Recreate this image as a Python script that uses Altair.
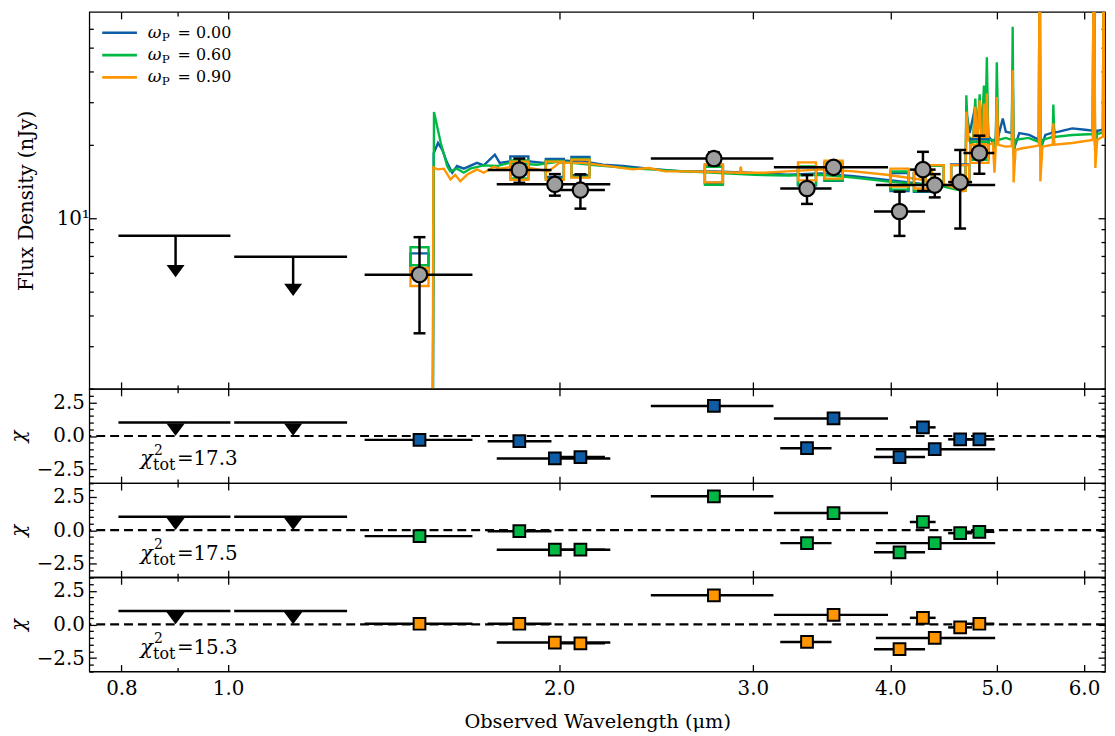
import altair as alt
import pandas as pd

FONT = "DejaVu Serif"
BLUE, GREEN, ORANGE, GRAY = "#0C5DA5", "#00B945", "#FF9500", "#9e9e9e"
MODEL_COLORS = [BLUE, GREEN, ORANGE]
omega_labels = ["0.00", "0.60", "0.90"]
chi2_tot = ["17.3", "17.5", "15.3"]

# ---------------- photometry (detections) ----------------
det_wl = [1.493, 1.840, 1.982, 2.091, 2.765, 3.360, 3.552, 4.078, 4.283, 4.390, 4.630, 4.820]
det_lo = [1.331, 1.722, 1.755, 1.992, 2.423, 3.177, 3.135, 3.866, 4.167, 3.881, 4.515, 4.662]
det_hi = [1.668, 1.968, 2.226, 2.201, 3.132, 3.537, 3.981, 4.302, 4.398, 4.982, 4.747, 4.973]
obs_flux = [5.88, 15.8, 13.8, 13.07, 17.6, 13.27, 16.2, 10.68, 15.86, 13.7, 14.09, 18.55]
obs_err = [2.5, 1.8, 1.4, 2.1, 1.06, 1.8, 0.5, 2.2, 2.9, 1.5, 5.0, 3.3]

# model photometry (open squares)
model_blue = [6.6, 16.5, 16.1, 16.4, 15.25, 14.9, 15.55, 14.1, 14.0, 15.2, 15.3, 19.4]
model_green = [7.0, 15.9, 15.8, 16.1, 14.95, 15.0, 15.6, 14.3, 14.1, 15.1, 15.2, 18.95]
model_orange = [5.75, 15.7, 15.7, 16.0, 15.3, 15.6, 15.85, 14.7, 14.45, 15.2, 15.2, 18.4]

# residuals (chi)
chi_blue = [-0.29, -0.39, -1.67, -1.57, 2.23, -0.91, 1.30, -1.57, 0.64, -0.98, -0.25, -0.25]
chi_green = [-0.44, -0.07, -1.45, -1.45, 2.52, -0.96, 1.27, -1.64, 0.61, -0.96, -0.22, -0.12]
chi_orange = [0.05, 0.05, -1.35, -1.40, 2.16, -1.30, 0.71, -1.84, 0.49, -1.00, -0.22, 0.05]

# ---------------- upper limits ----------------
ul_wl = [0.896, 1.146]
ul_lo = [0.795, 1.013]
ul_hi = [1.005, 1.283]
ul_flux = [8.50, 6.96]
ul_head = [6.08, 5.09]
ul_chi_bar = [1.0, 1.0]
ul_chi_mark = [0.47, 0.47]

# ---------------- model spectra ----------------
blue_wl = [1.534, 1.538, 1.552, 1.566, 1.582, 1.599, 1.615, 1.638, 1.684, 1.708, 1.748, 1.766, 1.803, 1.880,
           1.935, 2.001, 2.103, 2.192, 2.285, 2.412, 2.588, 2.772, 2.968, 3.225, 3.461, 3.706, 3.970, 4.261,
           4.441, 4.658, 4.682, 4.690, 4.723, 4.779, 4.796, 4.823, 4.841, 4.866, 4.880, 4.896, 4.911, 4.975,
           4.989, 4.999, 5.015, 5.062, 5.094, 5.158, 5.168, 5.178, 5.240, 5.350, 5.459, 5.468, 5.476, 5.534,
           5.619, 5.627, 5.639, 5.694, 5.854, 6.014, 6.111, 6.124, 6.140, 6.168, 6.243, 6.252, 6.262, 6.269]
blue_fx = [0.5, 18.5, 20.4, 19.1, 16.9, 15.4, 16.4, 16.0, 16.9, 16.5, 18.25, 16.9, 17.15, 17.15,
           16.9, 17.3, 17.15, 16.6, 16.4, 16.0, 15.6, 15.6, 15.4, 15.1, 15.3, 14.9, 14.4, 13.9,
           13.7, 13.2, 13.2, 27.4, 22.4, 28.7, 22.2, 30.5, 22.0, 29.7, 22.0, 32.6, 21.8, 20.05,
           21.7, 31.5, 21.7, 25.7, 22.7, 22.4, 40.5, 19.1, 22.4, 22.0, 21.0, 200, 19.1, 22.0,
           22.5, 24.6, 22.5, 22.7, 23.4, 23.1, 22.9, 200, 20.05, 22.9, 23.1, 200, 23.1, 23.3]

green_wl = [1.534, 1.539, 1.561, 1.582, 1.592, 1.615, 1.638, 1.660, 1.708, 1.755, 1.803, 1.908, 2.001, 2.161,
            2.348, 2.604, 2.772, 3.011, 3.225, 3.461, 3.706, 3.970, 4.261, 4.441, 4.658, 4.682, 4.690, 4.707,
            4.756, 4.779, 4.796, 4.823, 4.841, 4.866, 4.880, 4.896, 4.911, 4.958, 4.975, 4.989, 4.999, 5.015,
            5.094, 5.158, 5.168, 5.178, 5.199, 5.341, 5.459, 5.468, 5.476, 5.500, 5.619, 5.627, 5.639, 5.854,
            6.111, 6.124, 6.140, 6.168, 6.243, 6.252, 6.262, 6.269]
green_fx = [0.5, 27.3, 20.4, 16.4, 15.6, 16.0, 15.4, 16.0, 16.5, 16.4, 16.9, 16.6, 17.1, 16.5,
            16.0, 15.6, 15.4, 15.1, 15.0, 15.1, 14.7, 14.2, 13.8, 13.6, 12.95, 13.0, 32.0, 21.7,
            21.0, 31.0, 21.0, 32.3, 21.0, 35.1, 21.0, 45.8, 21.0, 21.0, 19.1, 21.0, 43.7, 21.0,
            21.4, 21.0, 61.1, 17.9, 21.0, 21.4, 20.6, 200, 18.25, 21.0, 21.6, 29.3, 21.6, 22.0,
            22.2, 200, 19.1, 22.2, 22.5, 200, 22.5, 22.5]

orange_wl = [1.534, 1.537, 1.550, 1.571, 1.593, 1.609, 1.626, 1.649, 1.684, 1.708, 1.744, 1.766, 1.830, 1.896,
             1.956, 2.001, 2.103, 2.220, 2.333, 2.412, 2.498, 2.588, 2.772, 2.919, 2.925, 2.931, 3.075, 3.225,
             3.461, 3.706, 3.970, 4.261, 4.441, 4.563, 4.658, 4.682, 4.690, 4.712, 4.756, 4.779, 4.796, 4.823,
             4.841, 4.856, 4.866, 4.880, 4.896, 4.911, 4.958, 4.975, 4.989, 4.999, 5.015, 5.094, 5.158, 5.168,
             5.178, 5.199, 5.276, 5.459, 5.468, 5.476, 5.500, 5.619, 5.627, 5.639, 5.854, 6.111, 6.124, 6.144,
             6.168, 6.243, 6.252, 6.262, 6.269]
orange_fx = [0.5, 16.2, 15.9, 16.0, 14.45, 15.1, 14.2, 15.1, 15.9, 15.4, 16.3, 16.0, 16.4, 16.0,
             15.6, 16.9, 16.9, 16.4, 15.9, 16.1, 15.6, 15.6, 15.5, 15.4, 16.3, 15.4, 15.4, 15.6,
             15.9, 15.6, 15.1, 14.45, 14.0, 13.4, 12.95, 13.0, 27.4, 21.0, 20.05, 28.7, 19.8, 30.5,
             19.1, 18.0, 29.6, 19.1, 32.5, 20.05, 20.4, 15.4, 20.05, 31.5, 20.05, 19.7, 19.8, 40.5,
             14.05, 19.1, 19.4, 19.9, 200, 14.2, 19.7, 20.05, 24.55, 20.05, 20.4, 21.0, 200, 16.1,
             21.0, 21.7, 200, 21.6, 21.6]

# ---------------- axes ----------------
X_MAJOR = [0.8, 1.0, 2.0, 3.0, 4.0, 5.0, 6.0]
X_MINOR = [0.9]
Y_MAJOR_MAIN = [10]
Y_MINOR_MAIN = [2, 3, 4, 5, 6, 7, 8, 9, 20, 30, 40, 50, 60]
Y_MAJOR_RES = [-2.5, 0.0, 2.5]
Y_MINOR_RES = [-3.5, -3.0, -2.0, -1.5, -1.0, -0.5, 0.5, 1.0, 1.5, 2.0, 3.0, 3.5]

W = 1024
xs = alt.Scale(type="log", domain=[0.748, 6.27], nice=False)
ys_main = alt.Scale(type="log", domain=[2.0, 70.3], nice=False)
ys_res = alt.Scale(domain=[-3.5, 3.5], nice=False, zero=False)


def ax(orient, values, size, labels=False, **kw):
    return alt.Axis(orient=orient, values=values, tickSize=size, offset=-size, domain=False, grid=False,
                    ticks=True, tickColor="black", tickWidth=1.3, labels=labels, labelOverlap=False,
                    labelFlush=False, labelBound=False, labelFont=FONT, labelColor="black",
                    titleFont=FONT, titleColor="black", titleFontWeight="normal", **kw)


def axis_layers(ys, ymaj, ymin, ylab_expr, ylab_pad, ytitle, ytitle_x, ytitle_style, bottom):
    d = pd.DataFrame({"ax": [2.0], "ay": [ymaj[0]]})
    base = alt.Chart(d).mark_point(opacity=0, size=1)
    if bottom:
        xb = dict(labels=True, labelExpr="format(datum.value, '.1f')", labelFontSize=20, labelPadding=7,
                  title="Observed Wavelength (μm)", titleFontSize=19.5, titlePadding=14)
    else:
        xb = dict(title=None)
    l1 = base.encode(
        x=alt.X("ax:Q", scale=xs, axis=ax("bottom", X_MAJOR, 7, **xb)),
        y=alt.Y("ay:Q", scale=ys, axis=ax("left", ymaj, 7, labels=True, labelExpr=ylab_expr,
                                          labelFontSize=20, labelPadding=ylab_pad, title=ytitle,
                                          titleFontSize=20, titleX=ytitle_x, titleBaseline="middle",
                                          titleFontStyle=ytitle_style)))
    l2 = base.encode(x=alt.X("ax:Q", scale=xs, axis=ax("bottom", X_MINOR, 4, title=None)),
                     y=alt.Y("ay:Q", scale=ys, axis=ax("left", ymin, 4, title=None)))
    l3 = base.encode(x=alt.X("ax:Q", scale=xs, axis=ax("top", X_MAJOR, 7, title=None)),
                     y=alt.Y("ay:Q", scale=ys, axis=ax("right", ymaj, 7, title=None)))
    l4 = base.encode(x=alt.X("ax:Q", scale=xs, axis=ax("top", X_MINOR, 4, title=None)),
                     y=alt.Y("ay:Q", scale=ys, axis=ax("right", ymin, 4, title=None)))
    return [l1, l2, l3, l4]


def X(f):
    return alt.X(f, type="quantitative", scale=xs, axis=None)


def Y(f, ys):
    return alt.Y(f, type="quantitative", scale=ys, axis=None)


TRI = "M-1,-0.68L1,-0.68L0,0.68Z"

# ---------------- main panel ----------------
det = pd.DataFrame({"wl": det_wl, "lo": det_lo, "hi": det_hi, "f": obs_flux, "e": obs_err,
                    "mb": model_blue, "mg": model_green, "mo": model_orange})
det["flo"] = det["f"] - det["e"]
det["fhi"] = det["f"] + det["e"]
ul = pd.DataFrame({"wl": ul_wl, "lo": ul_lo, "hi": ul_hi, "f": ul_flux, "head": ul_head,
                   "cb": ul_chi_bar, "cm": ul_chi_mark})

layers = axis_layers(ys_main, Y_MAJOR_MAIN, Y_MINOR_MAIN, "'10¹'", 0, "Flux Density (nJy)", -70.5,
                     "normal", False)

for wl, fx, c in [(blue_wl, blue_fx, BLUE), (green_wl, green_fx, GREEN), (orange_wl, orange_fx, ORANGE)]:
    df = pd.DataFrame({"wl": wl, "f": fx})
    layers.append(alt.Chart(df).mark_line(color=c, strokeWidth=2.4, clip=True)
                  .encode(x=X("wl"), y=Y("f", ys_main)))

for col, c in [("mb", BLUE), ("mg", GREEN), ("mo", ORANGE)]:
    layers.append(alt.Chart(det).mark_point(shape="square", filled=False, color=c, strokeWidth=2.4,
                                            size=330, opacity=1)
                  .encode(x=X("wl"), y=Y(col, ys_main)))

layers.append(alt.Chart(ul).mark_rule(color="black", strokeWidth=2.5)
              .encode(x=X("lo"), x2=alt.X2("hi"), y=Y("f", ys_main)))
layers.append(alt.Chart(ul).mark_rule(color="black", strokeWidth=2.5)
              .encode(x=X("wl"), y=Y("f", ys_main), y2=alt.Y2("head")))
layers.append(alt.Chart(ul).mark_point(shape=TRI, filled=True, color="black", size=330, opacity=1)
              .encode(x=X("wl"), y=Y("head", ys_main)))

layers.append(alt.Chart(det).mark_rule(color="black", strokeWidth=2.5)
              .encode(x=X("lo"), x2=alt.X2("hi"), y=Y("f", ys_main)))
layers.append(alt.Chart(det).mark_rule(color="black", strokeWidth=2.5)
              .encode(x=X("wl"), y=Y("flo", ys_main), y2=alt.Y2("fhi")))
for col in ["flo", "fhi"]:
    layers.append(alt.Chart(det).mark_rule(color="black", strokeWidth=2.5, xOffset=-6, x2Offset=6)
                  .encode(x=X("wl"), x2=alt.X2("wl"), y=Y(col, ys_main)))
layers.append(alt.Chart(det).mark_point(shape="circle", filled=True, fill=GRAY, stroke="black",
                                        strokeWidth=2.2, size=240, opacity=1)
              .encode(x=X("wl"), y=Y("f", ys_main)))

# legend
dummy = pd.DataFrame({"a": [0]})
for i, (c, lab) in enumerate(zip(MODEL_COLORS, omega_labels)):
    yy = 21 + 22.5 * i
    layers.append(alt.Chart(dummy).mark_rule(color=c, strokeWidth=2.6)
                  .encode(x=alt.value(13), x2=alt.value(48), y=alt.value(yy)))
    layers.append(alt.Chart(dummy).mark_text(text="ω", font=FONT, fontSize=17, fontStyle="italic",
                                             align="left", baseline="middle", color="black")
                  .encode(x=alt.value(59), y=alt.value(yy)))
    layers.append(alt.Chart(dummy).mark_text(text="P", font=FONT, fontSize=12, align="left",
                                             baseline="middle", color="black", dy=4)
                  .encode(x=alt.value(73), y=alt.value(yy)))
    layers.append(alt.Chart(dummy).mark_text(text="= " + lab, font=FONT, fontSize=16, align="left",
                                             baseline="middle", color="black")
                  .encode(x=alt.value(89), y=alt.value(yy)))

main = alt.layer(*layers).resolve_axis(x="independent", y="independent").properties(width=W, height=380)


# ---------------- residual panels ----------------
def residual_panel(chi, color, chi_tot, bottom):
    d = pd.DataFrame({"wl": det_wl, "lo": det_lo, "hi": det_hi, "chi": chi})
    L = axis_layers(ys_res, Y_MAJOR_RES, Y_MINOR_RES, "replace(format(datum.value, '.1f'), '-', '−')", 5,
                    "χ", -78, "italic", bottom)
    L.append(alt.Chart(pd.DataFrame({"z": [0.0]})).mark_rule(color="black", strokeWidth=2.2, strokeDash=[9, 5])
             .encode(y=Y("z", ys_res)))
    L.append(alt.Chart(ul).mark_rule(color="black", strokeWidth=2.5)
             .encode(x=X("lo"), x2=alt.X2("hi"), y=Y("cb", ys_res)))
    L.append(alt.Chart(ul).mark_point(shape=TRI, filled=True, color="black", size=340, opacity=1)
             .encode(x=X("wl"), y=Y("cm", ys_res)))
    L.append(alt.Chart(d).mark_rule(color="black", strokeWidth=2.5)
             .encode(x=X("lo"), x2=alt.X2("hi"), y=Y("chi", ys_res)))
    L.append(alt.Chart(d).mark_point(shape="square", filled=True, fill=color, stroke="black",
                                     strokeWidth=2, size=140, opacity=1)
             .encode(x=X("wl"), y=Y("chi", ys_res)))
    t = pd.DataFrame({"wl": [0.832], "chi": [-1.75], "val": ["=" + chi_tot]})
    tb = alt.Chart(t)
    L.append(tb.mark_text(text="χ", font=FONT, fontSize=21, fontStyle="italic", align="left",
                          baseline="middle", color="black").encode(x=X("wl"), y=Y("chi", ys_res)))
    L.append(tb.mark_text(text="2", font=FONT, fontSize=14, align="left", baseline="middle",
                          color="black", dx=14, dy=-9).encode(x=X("wl"), y=Y("chi", ys_res)))
    L.append(tb.mark_text(text="tot", font=FONT, fontSize=16, align="left", baseline="middle",
                          color="black", dx=13, dy=6).encode(x=X("wl"), y=Y("chi", ys_res)))
    L.append(tb.mark_text(font=FONT, fontSize=20, align="left", baseline="middle", color="black", dx=37)
             .encode(x=X("wl"), y=Y("chi", ys_res), text="val:N"))
    return alt.layer(*L).resolve_axis(x="independent", y="independent").properties(width=W, height=95)


r1 = residual_panel(chi_blue, BLUE, chi2_tot[0], False)
r2 = residual_panel(chi_green, GREEN, chi2_tot[1], False)
r3 = residual_panel(chi_orange, ORANGE, chi2_tot[2], True)

chart = (alt.vconcat(main, r1, r2, r3, spacing=0, bounds="flush")
         .resolve_scale(x="independent", y="independent")
         .properties(padding={"left": 0, "right": 0, "top": -1, "bottom": 0})
         .configure(font=FONT)
         .configure_view(stroke="black", strokeWidth=1.3))

chart.save("out.html", embed_options={"renderer": "svg", "actions": False})
